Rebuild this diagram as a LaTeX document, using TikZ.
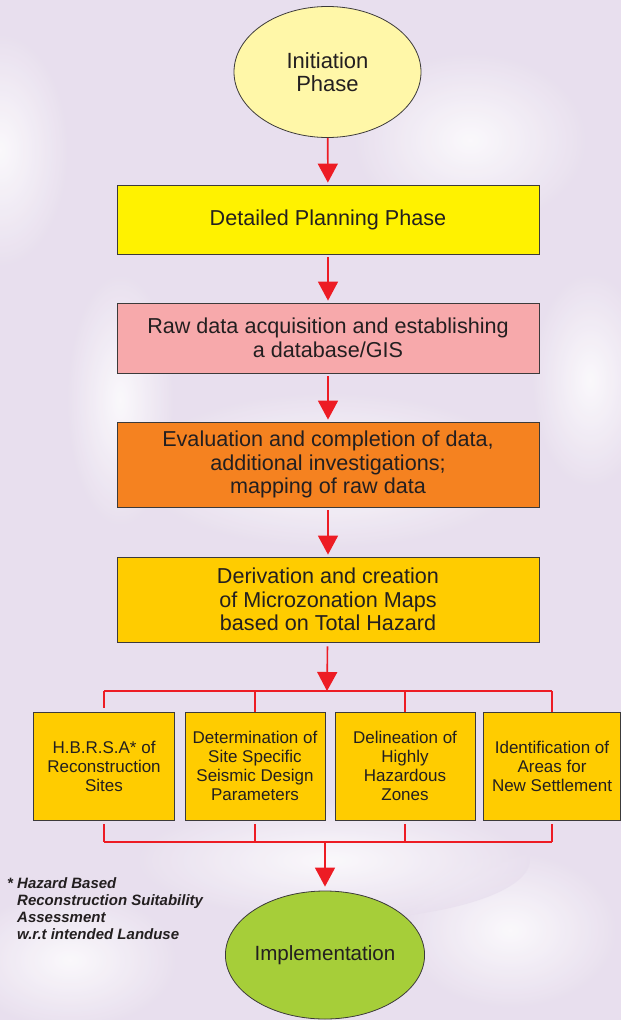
\documentclass[tikz,border=0pt]{standalone}
\usepackage{fontspec}
\setmainfont{Liberation Sans}
\usetikzlibrary{arrows.meta,shapes.geometric}

\definecolor{grund}{RGB}{232,223,238}
\definecolor{rot}{RGB}{237,28,36}
\definecolor{rand}{RGB}{60,58,58}
\definecolor{schrift}{RGB}{35,31,32}
\definecolor{hellgelb}{RGB}{255,247,168}
\definecolor{gelb}{RGB}{255,242,0}
\definecolor{rosa}{RGB}{247,169,171}
\definecolor{orange}{RGB}{245,130,32}
\definecolor{gold}{RGB}{255,204,0}
\definecolor{gruen}{RGB}{166,206,57}

\begin{document}
\begin{tikzpicture}[x=1pt,y=-1pt,
    phase/.style={
      ellipse,
      draw=rand,
      line width=.8pt,
      inner sep=0pt,
      align=center,
      text=schrift},
    stufe/.style={
      rectangle,
      draw=rand,
      line width=.8pt,
      minimum width=422pt,
      align=center,
      text=schrift,
      font=\fontsize{21.6}{23.5}\selectfont},
    teil/.style={
      rectangle,
      draw=rand,
      line width=.8pt,
      fill=gold,
      minimum height=108pt,
      inner sep=1pt,
      align=center,
      text=schrift,
      font=\fontsize{17}{19}\selectfont},
    pfeil/.style={draw=rot, line width=1.6pt, -{Triangle[width=20pt,length=19pt]}},
    linie/.style={draw=rot, line width=1.6pt},
    glanz/.style={shading=radial, inner color=white, outer color=grund, opacity=.8}
    ]

  % hintergrund
  \fill[grund] (0,0) rectangle (621,1020);
  \useasboundingbox (0,0) rectangle (621,1020);
  \path[glanz] (0,150) ellipse (70 and 120);
  \path[glanz] (120,400) ellipse (55 and 130);
  \path[glanz] (330,470) ellipse (200 and 80);
  \path[glanz] (590,380) ellipse (60 and 110);
  \path[glanz] (470,140) ellipse (120 and 90);
  \path[glanz] (70,960) ellipse (110 and 70);
  \path[glanz] (510,930) ellipse (110 and 80);
  \path[glanz] (330,860) ellipse (200 and 60);

  % knoten
  \node at (327.5, 72) (anfang) [phase, fill=hellgelb, minimum width=187pt, minimum height=131pt,
    font=\fontsize{22}{23}\selectfont] {Initiation\\Phase};
  \node at (328, 219.5) (planung) [stufe, fill=gelb, minimum height=69pt] {Detailed Planning Phase};
  \node at (328, 338) (rohdaten) [stufe, fill=rosa, minimum height=70pt] {Raw data acquisition and establishing\\a database/GIS};
  \node at (328, 464.5) (auswertung) [stufe, fill=orange, minimum height=85pt] {Evaluation and completion of data,\\additional investigations;\\mapping of raw data};
  \node at (328, 599.5) (karten) [stufe, fill=gold, minimum height=85pt] {Derivation and creation\\of Microzonation Maps\\based on Total Hazard};

  \node at (104, 766) (hbrsa) [teil, minimum width=141pt] {H.B.R.S.A* of\\Reconstruction\\Sites};
  \node at (255, 766) (parameter) [teil, minimum width=140pt] {Determination of\\Site Specific\\Seismic Design\\Parameters};
  \node at (405, 766) (zonen) [teil, minimum width=140pt] {Delineation of\\Highly\\Hazardous\\Zones};
  \node at (552, 766) (siedlung) [teil, minimum width=137pt] {Identification of\\Areas for\\New Settlement};

  \node at (325, 955) (umsetzung) [phase, fill=gruen, minimum width=186pt, minimum height=128pt,
    font=\fontsize{20.6}{23}\selectfont] {Implementation};

  \node at (7, 877) (fussnote) [anchor=north west, inner sep=0pt, align=left, text=schrift,
    font=\fontsize{15}{17}\selectfont\bfseries\itshape]
    {* Hazard Based\\\hphantom{* }Reconstruction Suitability\\\hphantom{* }Assessment\\\hphantom{* }w.r.t intended Landuse};

  \coordinate (oben) at (327, 691);
  \coordinate (unten) at (325, 842);

  % pfeile
  \draw[pfeil, shorten >=2pt] (anfang) -- (planung);
  \draw[pfeil, shorten <=3pt, shorten >=2pt] (planung) -- (rohdaten);
  \draw[pfeil, shorten <=3pt, shorten >=2pt] (rohdaten) -- (auswertung);
  \draw[pfeil, shorten <=3pt, shorten >=2pt] (auswertung) -- (karten);
  \draw[pfeil, shorten <=4pt] (karten) -- (oben);

  \draw[linie] (hbrsa.north |- oben) -- (siedlung.north |- oben);
  \draw[linie, shorten >=4pt] (hbrsa.north |- oben) -- (hbrsa.north);
  \foreach \ziel in {parameter, zonen, siedlung}
    \draw[linie] (\ziel.north |- oben) -- (\ziel.north);

  \foreach \quelle in {hbrsa, parameter, zonen, siedlung}
    \draw[linie, shorten <=4pt] (\quelle.south) -- (\quelle.south |- unten);
  \draw[linie] (hbrsa.south |- unten) -- (siedlung.south |- unten);
  \draw[pfeil, shorten >=4pt] (unten) -- (umsetzung);

\end{tikzpicture}
\end{document}
